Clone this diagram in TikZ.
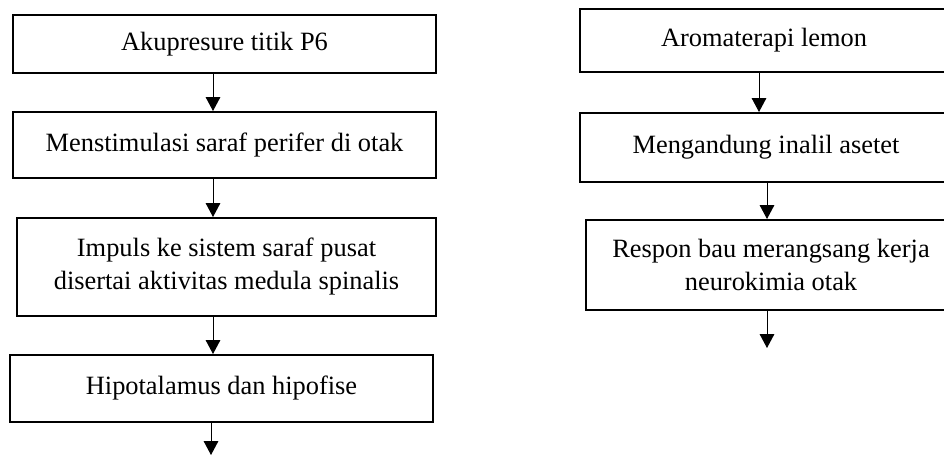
\documentclass[tikz,border=0pt]{standalone}
\usepackage{fontspec}
\setmainfont{Liberation Serif}
\usetikzlibrary{arrows.meta}

\def\px{0.75pt}

\begin{document}
\begin{tikzpicture}[x=\px, y=-\px,
    kotak/.style={draw, line width=1.5pt, rectangle, inner sep=0pt, align=center,
      font=\fontsize{19.8}{24.75}\selectfont},
    panah/.style={line width=0.75pt, -{Triangle[width=11pt,length=10.5pt]}}]
      \useasboundingbox (0,0) rectangle (944,455);
      % kolom kiri
      \node[kotak, minimum width=423*\px, minimum height=58*\px] (b1) at (224.5, 44) {Akupresure titik P6};
      \node[kotak, minimum width=423*\px, minimum height=66*\px] (b2) at (224.5, 145) {Menstimulasi saraf perifer di otak};
      \node[kotak, minimum width=419*\px, minimum height=98*\px] (b3) at (226.5, 267) {Impuls ke sistem saraf pusat\\disertai aktivitas medula spinalis};
      \node[kotak, minimum width=423*\px, minimum height=67*\px] (b4) at (221.5, 388.5) {Hipotalamus dan hipofise};
      % kolom kanan
      \node[kotak, minimum width=368*\px, minimum height=63*\px] (r1) at (764, 40.5) {Aromaterapi lemon};
      \node[kotak, minimum width=372*\px, minimum height=69*\px] (r2) at (766, 147.5) {Mengandung inalil asetet};
      \node[kotak, minimum width=370*\px, minimum height=90*\px] (r3) at (771, 265) {Respon bau merangsang kerja\\neurokimia otak};
      \coordinate (ka) at (213, 0);
      \coordinate (kb) at (211, 0);
      \coordinate (kc) at (759, 0);
      \coordinate (kd) at (767, 0);
      \coordinate (akhir1) at (211, 455);
      \coordinate (akhir2) at (767, 348);
      \draw[panah] (b1.south -| ka) -- (b2.north -| ka);
      \draw[panah] (b2.south -| ka) -- (b3.north -| ka);
      \draw[panah] (b3.south -| ka) -- (b4.north -| ka);
      \draw[panah] (b4.south -| kb) -- (akhir1);
      \draw[panah] (r1.south -| kc) -- (r2.north -| kc);
      \draw[panah] (r2.south -| kd) -- (r3.north -| kd);
      \draw[panah] (r3.south -| kd) -- (akhir2);
    \end{tikzpicture}
\end{document}
